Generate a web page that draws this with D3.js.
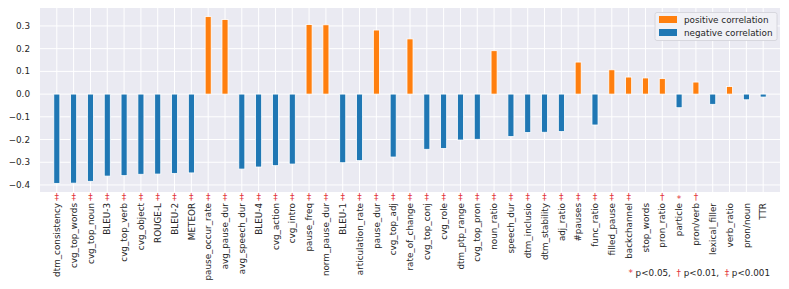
<!DOCTYPE html>
<html>
<head>
<meta charset="utf-8">
<script src="https://cdn.jsdelivr.net/npm/d3@7"></script>
<style>
    body { margin: 0; background: #fff; }
    text { font-family: "DejaVu Sans", sans-serif; }
</style>
</head>
<body>
<div id="chart"></div>
<script>
// features, in plotted order
var features = ['dtm_consistency', 'cvg_top_words', 'cvg_top_noun', 'BLEU-3', 'cvg_top_verb',
    'cvg_object', 'ROUGE-L', 'BLEU-2', 'METEOR', 'pause_occur_rate', 'avg_pause_dur',
    'avg_speech_dur', 'BLEU-4', 'cvg_action', 'cvg_intro', 'pause_freq', 'norm_pause_dur',
    'BLEU-1', 'articulation_rate', 'pause_dur', 'cvg_top_adj', 'rate_of_change', 'cvg_top_conj',
    'cvg_role', 'dtm_ptp_range', 'cvg_top_pron', 'noun_ratio', 'speech_dur', 'dtm_inclusio',
    'dtm_stability', 'adj_ratio', '#pauses', 'func_ratio', 'filled_pause', 'backchannel',
    'stop_words', 'pron_ratio', 'particle', 'pron/verb', 'lexical_filler', 'verb_ratio',
    'pron/noun', 'TTR'];

// correlation coefficients
var corr = [-0.393, -0.392, -0.384, -0.361, -0.359,
    -0.353, -0.352, -0.349, -0.347, 0.341, 0.328,
    -0.330, -0.321, -0.315, -0.308, 0.306, 0.305,
    -0.302, -0.293, 0.282, -0.277, 0.243, -0.243,
    -0.239, -0.202, -0.199, 0.191, -0.187, -0.169,
    -0.168, -0.165, 0.141, -0.136, 0.107, 0.075,
    0.071, 0.068, -0.060, 0.053, -0.045, 0.033,
    -0.025, -0.013];

// significance markers ('' = n.s.)
var sig = ['‡', '‡', '‡', '‡', '‡', '‡', '‡', '‡', '‡', '‡', '‡', '‡', '‡', '‡', '‡',
    '‡', '‡', '‡', '‡', '‡', '‡', '‡', '‡', '‡', '‡', '‡', '‡', '‡', '‡', '‡',
    '‡', '‡', '‡', '‡', '‡', '', '†', '*', '†', '', '', '', ''];

var yTicks = [-0.4, -0.3, -0.2, -0.1, 0.0, 0.1, 0.2, 0.3];

var legendLabels = ['positive correlation', 'negative correlation'];
var footnote = [['*', ' p<0.05,  '], ['†', ' p<0.01,  '], ['‡', ' p<0.001']];

(function(){
    var WIDTH       = 789,
        HEIGHT      = 289,
        LEFT        = 40,
        RIGHT       = 780,
        TOP         = 8,
        BOTTOM      = 192,
        FONT        = '8.8px',

        BG          = '#eaeaf2',
        ORANGE      = '#ff7f0e',
        BLUE        = '#1f77b4',
        RED         = '#e3343b',
        INK         = '#262626';

    var svg = d3.select('#chart')
        .append('svg')
        .attr('width', WIDTH)
        .attr('height', HEIGHT);

    var x = d3.scaleLinear().domain([-1, features.length]).range([LEFT, RIGHT]);
    var y = d3.scaleLinear().domain([-0.431, 0.379]).range([BOTTOM, TOP]);
    var BAR_W = (x(1) - x(0)) * 0.36;

    svg.append('rect')
        .attr('x', LEFT).attr('y', TOP)
        .attr('width', RIGHT - LEFT).attr('height', BOTTOM - TOP)
        .attr('fill', BG);

    // grid
    var grid = svg.append('g').attr('stroke', '#fff').attr('stroke-width', 1);
    grid.selectAll('line.h')
        .data(yTicks)
        .enter().append('line')
        .attr('x1', LEFT).attr('x2', RIGHT)
        .attr('y1', function(d){ return y(d); })
        .attr('y2', function(d){ return y(d); });
    grid.selectAll('line.v')
        .data(features)
        .enter().append('line')
        .attr('x1', function(d, i){ return x(i); })
        .attr('x2', function(d, i){ return x(i); })
        .attr('y1', TOP).attr('y2', BOTTOM);

    // bars
    svg.append('g').selectAll('rect')
        .data(corr)
        .enter().append('rect')
        .attr('x', function(d, i){ return x(i) - BAR_W / 2; })
        .attr('y', function(d){ return y(Math.max(0, d)); })
        .attr('width', BAR_W)
        .attr('height', function(d){ return Math.abs(y(d) - y(0)); })
        .attr('fill', function(d){ return d > 0 ? ORANGE : BLUE; })
        .attr('stroke', '#fff')
        .attr('stroke-width', 0.8);

    // y axis labels
    var fmt = d3.format('.1f');
    svg.append('g').selectAll('text')
        .data(yTicks)
        .enter().append('text')
        .attr('x', LEFT - 10)
        .attr('y', function(d){ return y(d); })
        .attr('dy', '0.35em')
        .attr('text-anchor', 'end')
        .attr('font-size', FONT)
        .attr('fill', INK)
        .text(function(d){ return fmt(d).replace('-', '\u2212'); });

    // significance markers
    svg.append('g').selectAll('text')
        .data(sig)
        .enter().append('text')
        .attr('x', function(d, i){ return x(i); })
        .attr('y', function(d){ return d === '*' ? 202 : 199.5; })
        .attr('text-anchor', 'middle')
        .attr('font-size', '9px')
        .attr('fill', RED)
        .text(function(d){ return d; });

    // x labels, rotated
    svg.append('g').selectAll('text')
        .data(features)
        .enter().append('text')
        .attr('transform', function(d, i){
            return 'translate(' + (x(i) + 3.2) + ',203) rotate(-90)';
        })
        .attr('text-anchor', 'end')
        .attr('font-size', FONT)
        .attr('fill', INK)
        .text(function(d){ return d; });

    // legend
    var lg = svg.append('g').attr('transform', 'translate(655,12.5)');
    lg.append('rect')
        .attr('width', 122).attr('height', 28)
        .attr('rx', 2)
        .attr('fill', '#f1f1f6')
        .attr('stroke', '#d0d0d8')
        .attr('stroke-width', 0.8);
    var items = lg.selectAll('g.item')
        .data(legendLabels)
        .enter().append('g')
        .attr('transform', function(d, i){ return 'translate(4,' + (3.5 + i * 13) + ')'; });
    items.append('rect')
        .attr('width', 18).attr('height', 7)
        .attr('fill', function(d, i){ return i === 0 ? ORANGE : BLUE; });
    items.append('text')
        .attr('x', 25).attr('y', 3.5)
        .attr('dy', '0.35em')
        .attr('font-size', FONT)
        .attr('fill', INK)
        .text(function(d){ return d; });

    // footnote
    var fn = svg.append('text')
        .attr('x', 770).attr('y', 276)
        .attr('text-anchor', 'end')
        .attr('font-size', FONT)
        .attr('fill', INK)
        .style('white-space', 'pre');
    footnote.forEach(function(p){
        fn.append('tspan').attr('fill', RED).text(p[0]);
        fn.append('tspan').text(p[1]);
    });
})();
</script>
</body>
</html>
